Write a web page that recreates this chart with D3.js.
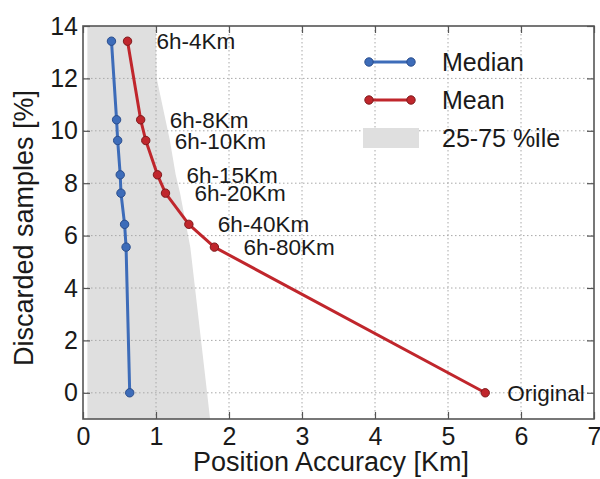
<!DOCTYPE html>
<html>
<head>
<meta charset="utf-8">
<script src="https://cdn.jsdelivr.net/npm/d3@7"></script>
<style>
  html, body { margin: 0; padding: 0; background: #fff; }
  svg { display: block; }
  text { font-family: "Liberation Sans", Arial, Helvetica, sans-serif; fill: #1a1a1a; }
</style>
</head>
<body>
<svg id="chart" width="600" height="479"></svg>
<script>
// ---- data ----
const discarded = [13.42, 10.42, 9.63, 8.32, 7.62, 6.43, 5.56, 0];
const median    = [0.39, 0.46, 0.475, 0.51, 0.52, 0.57, 0.59, 0.64];
const mean      = [0.61, 0.79, 0.86, 1.02, 1.13, 1.45, 1.80, 5.51];
const pointLabels = ["6h-4Km", "6h-8Km", "6h-10Km", "6h-15Km", "6h-20Km", "6h-40Km", "6h-80Km", "Original"];

// 25-75 percentile band
const bandY   = [14, 13.42, 12, 10.42, 9.63, 8.32, 7.62, 6.43, 5.56, 0, -1];
const bandP25 = [0.06, 0.06, 0.06, 0.06, 0.06, 0.06, 0.06, 0.06, 0.06, 0.06, 0.06];
const bandP75 = [1.0, 1.0, 1.01, 1.13, 1.19, 1.27, 1.33, 1.41, 1.47, 1.70, 1.74];

const xTicks = [0, 1, 2, 3, 4, 5, 6, 7];
const yTicks = [0, 2, 4, 6, 8, 10, 12, 14];
const legendLabels = ["Median", "Mean", "25-75 %ile"];

// ---- layout ----
const L = 83, R = 594, T = 26, B = 419;
const svg = d3.select("#chart");
const x = d3.scaleLinear().domain([0, 7]).range([L, R]);
const y = d3.scaleLinear().domain([-1, 14]).range([B, T]);

const blue = "#3d6cb9", blueEdge = "#2a4d8c";
const red = "#c0262c", redEdge = "#7d1a1c";
const bandColor = "#dfdfdf";

svg.append("defs").append("clipPath").attr("id", "clip")
  .append("rect").attr("x", L).attr("y", T).attr("width", R - L).attr("height", B - T);

// band
const bandData = bandY.map((v, i) => ({ y: v, a: bandP25[i], b: bandP75[i] }));
svg.append("path")
  .datum(bandData)
  .attr("clip-path", "url(#clip)")
  .attr("fill", bandColor)
  .attr("d", d3.area().y(d => y(d.y)).x0(d => x(d.a)).x1(d => x(d.b)));

// grid
const grid = svg.append("g").attr("stroke", "#a8a8a8").attr("stroke-width", 1).attr("stroke-dasharray", "1.5,2.5");
grid.selectAll("line.gx").data(xTicks.filter(t => t > 0 && t < 7)).join("line")
  .attr("x1", d => x(d)).attr("x2", d => x(d)).attr("y1", T).attr("y2", B);
grid.selectAll("line.gy").data(yTicks.filter(t => t < 14)).join("line")
  .attr("y1", d => y(d)).attr("y2", d => y(d)).attr("x1", L).attr("x2", R);

// axes
const axisColor = "#555";
function styleAxis(g, fs) {
  g.select(".domain").remove();
  g.selectAll(".tick line").attr("stroke", axisColor).attr("stroke-width", 1.2);
  g.selectAll(".tick text").attr("font-size", fs).attr("fill", "#1a1a1a")
    .style("font-family", '"Liberation Sans", Arial, Helvetica, sans-serif');
}
svg.append("g").attr("transform", `translate(0,${B})`)
  .call(d3.axisBottom(x).tickValues(xTicks).tickFormat(d3.format("d")).tickSize(-7).tickPadding(8))
  .call(g => styleAxis(g, 25));
svg.append("g").attr("transform", `translate(0,${T})`)
  .call(d3.axisTop(x).tickValues(xTicks).tickFormat("").tickSize(-7))
  .call(g => styleAxis(g, 25));
svg.append("g").attr("transform", `translate(${L},0)`)
  .call(d3.axisLeft(y).tickValues(yTicks).tickFormat(d3.format("d")).tickSize(-7).tickPadding(5))
  .call(g => styleAxis(g, 25));
svg.append("g").attr("transform", `translate(${R},0)`)
  .call(d3.axisRight(y).tickValues(yTicks).tickFormat("").tickSize(-7))
  .call(g => styleAxis(g, 25));

svg.append("rect").attr("x", L).attr("y", T).attr("width", R - L).attr("height", B - T)
  .attr("fill", "none").attr("stroke", axisColor).attr("stroke-width", 1.6);

// series
const medianPts = discarded.map((d, i) => ({ x: median[i], y: d }));
const meanPts = discarded.map((d, i) => ({ x: mean[i], y: d }));
const line = d3.line().x(d => x(d.x)).y(d => y(d.y));

function drawSeries(pts, col, edge) {
  svg.append("path").datum(pts).attr("fill", "none").attr("stroke", col)
    .attr("stroke-width", 3).attr("stroke-linejoin", "round").attr("d", line);
  svg.append("g").selectAll("circle").data(pts).join("circle")
    .attr("cx", d => x(d.x)).attr("cy", d => y(d.y)).attr("r", 4.2)
    .attr("fill", col).attr("stroke", edge).attr("stroke-width", 1);
}
drawSeries(medianPts, blue, blueEdge);
drawSeries(meanPts, red, redEdge);

// point labels
svg.append("g").selectAll("text").data(meanPts).join("text")
  .attr("x", (d, i) => x(d.x) + (i === meanPts.length - 1 ? 22 : 29))
  .attr("y", d => y(d.y))
  .attr("dy", "0.36em")
  .attr("font-size", 22.5)
  .text((d, i) => pointLabels[i]);

// legend
const lg = svg.append("g");
const legY = [62, 100, 138];
[[blue, blueEdge], [red, redEdge]].forEach(([c, e], i) => {
  lg.append("line").attr("x1", 369).attr("x2", 411).attr("y1", legY[i]).attr("y2", legY[i])
    .attr("stroke", c).attr("stroke-width", 3);
  [369, 411].forEach(cx => lg.append("circle").attr("cx", cx).attr("cy", legY[i]).attr("r", 4.2)
    .attr("fill", c).attr("stroke", e).attr("stroke-width", 1));
});
lg.append("rect").attr("x", 363).attr("y", legY[2] - 10).attr("width", 56).attr("height", 20).attr("fill", bandColor);
lg.selectAll("text").data(legendLabels).join("text")
  .attr("x", 442).attr("y", (d, i) => legY[i]).attr("dy", "0.36em")
  .attr("font-size", 25).text(d => d);

// axis labels
svg.append("text").attr("x", 331).attr("y", 471).attr("text-anchor", "middle")
  .attr("font-size", 27).text("Position Accuracy [Km]");
svg.append("text").attr("transform", "translate(33,228) rotate(-90)").attr("text-anchor", "middle")
  .attr("font-size", 27).text("Discarded samples [%]");
</script>
</body>
</html>
